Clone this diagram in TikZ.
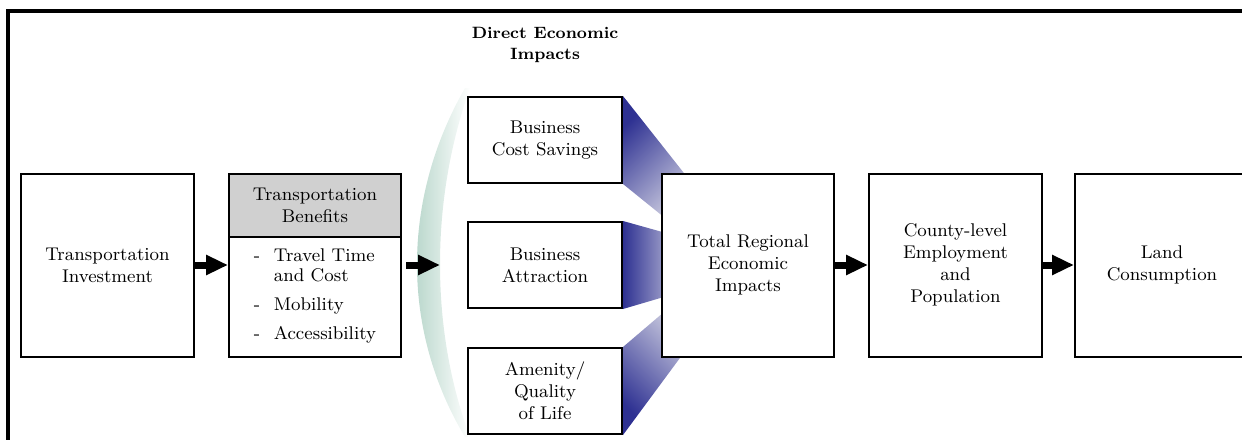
\documentclass[tikz,border=0pt]{standalone}
\usepackage{tikz}
\usetikzlibrary{arrows.meta,positioning,backgrounds,calc}
\definecolor{navy1}{HTML}{2E3192}
\definecolor{lav1}{HTML}{DCDCE8}
\definecolor{mint1}{HTML}{A8CDBF}
\definecolor{hdrgray}{HTML}{D0D0D0}
\newcommand{\boxfont}{\fontsize{9.2}{11}\selectfont}

\begin{document}
\begin{tikzpicture}[
  x=0.5pt, y=-0.5pt,
  node distance=16.5pt,
  box/.style={rectangle,draw,line width=1pt,fill=white,align=center,
              font=\boxfont,inner sep=2pt},
  bigbox/.style={box,minimum width=86.5pt,minimum height=91.5pt},
  dirbox/.style={box,minimum width=77pt,minimum height=43pt},
  arrow/.style={-{Triangle[length=11pt,width=9.5pt]},line width=3.5pt},
]
  \useasboundingbox (0,0) rectangle (1242,439);
  % frame runs off the page on the right and at the bottom
  \draw[line width=2pt] (8,10.5) rectangle (1300,480);

  \node[bigbox] (inv) at (107.5,265) {Transportation\\Investment};
  \node[box,fill=hdrgray,minimum width=86pt,minimum height=31.5pt,
        right=16.5pt of inv.north east,anchor=north west] (hdr)
    {Transportation\\Benefits};
  \node[box,minimum width=86pt,minimum height=60pt,below=-1pt of hdr] (ben)
    {\fontsize{9.2}{10}\selectfont
     \begin{tabular}{@{}p{10pt}@{}l@{}}
       - & Travel Time\\
         & and Cost\\[4.5pt]
       - & Mobility\\[4.5pt]
       - & Accessibility
     \end{tabular}};

  % direct economic impacts
  \node[dirbox] (ba) at (545,265) {Business\\Attraction};
  \node[dirbox,above=18.5pt of ba] (bcs) {Business\\Cost Savings};
  \node[dirbox,below=19pt of ba] (aql) {Amenity/\\Quality\\of Life};
  \node[above=13pt of bcs,align=center,
        font=\fontsize{8.2}{10.5}\selectfont\bfseries] (dei)
    {Direct Economic\\Impacts};

  \node[bigbox,minimum width=86pt,right=19pt of ba] (tot)
    {Total Regional\\Economic\\Impacts};
  \node[bigbox,right=of tot] (cty)
    {County-level\\Employment\\and\\Population};
  \node[bigbox,minimum width=87pt,right=15.5pt of cty] (land)
    {Land\\Consumption};

  \coordinate (cres) at (440,265);
  \draw[arrow] (inv.east) -- (inv.east -| hdr.west);
  \draw[arrow] ($(ben.east |- inv.east)+(4,0)$) -- (cres);
  \draw[arrow] (tot) -- (cty);
  \draw[arrow] (cty) -- (land);

  \begin{scope}[on background layer]
    \shade[left color=mint1,right color=white]
      (465,88) .. controls (401,200) and (401,330) .. (465,437)
      -- (470,437) .. controls (430,330) and (430,200) .. (470,88) -- cycle;
    \shade[top color=navy1,bottom color=lav1,shading angle=45]
      (bcs.north east) -- ++(68,86) -- ++(0,57) -- (bcs.south east) -- cycle;
    \shade[left color=navy1,right color=lav1]
      (ba.north east) -- ++(68,19) -- ++(0,49) -- (ba.south east) -- cycle;
    \shade[bottom color=navy1,top color=lav1,shading angle=-45]
      (aql.north east) -- ++(68,-58) -- ++(0,54) -- (aql.south east) -- cycle;
  \end{scope}
\end{tikzpicture}
\end{document}
